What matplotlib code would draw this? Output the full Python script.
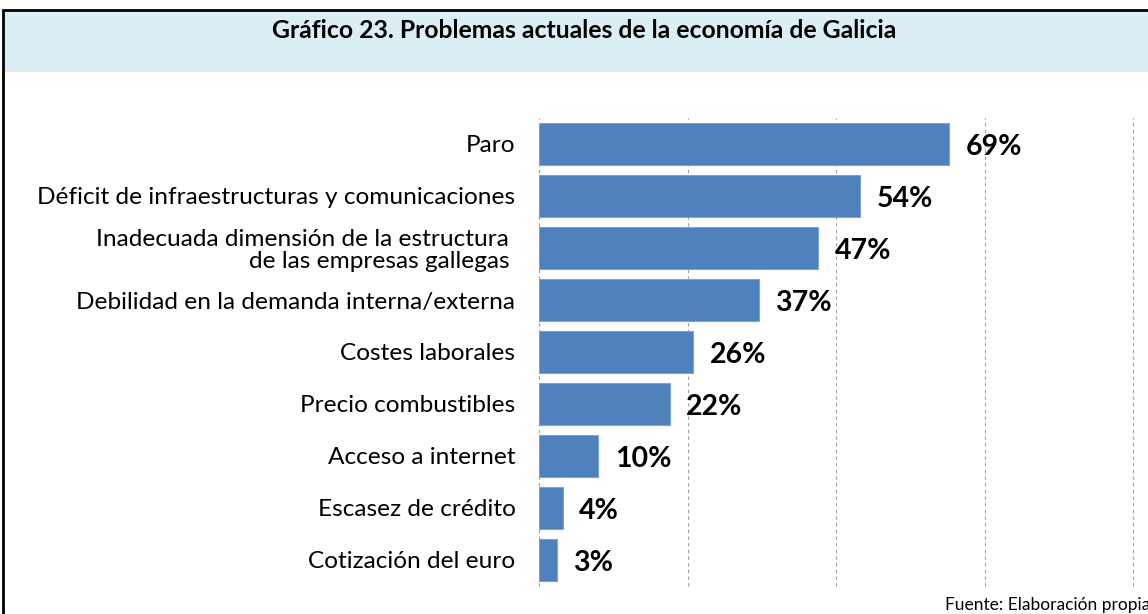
import matplotlib.pyplot as plt
from matplotlib.patches import Rectangle

categorias = ['Paro',
              'Déficit de infraestructuras y comunicaciones',
              'Inadecuada dimensión de la estructura \nde las empresas gallegas ',
              'Debilidad en la demanda interna/externa',
              'Costes laborales',
              'Precio combustibles',
              'Acceso a internet',
              'Escasez de crédito',
              'Cotización del euro']
valores = [69, 54, 47, 37, 26, 22, 10, 4, 3]
etiquetas = ['69%', '54%', '47%', '37%', '26%', '22%', '10%', '4%', '3%']

plt.rcParams['font.family'] = ['Lato', 'DejaVu Sans']

fig = plt.figure(figsize=(11.48, 6.14), dpi=100)
W, H = 1148, 614

# marco y banda del titulo
fig.patches.append(Rectangle((4/W, 1 - 72/H), 1.0, 61/H, transform=fig.transFigure,
                             fc='#DAEEF3', ec='none', zorder=0))
fig.patches.append(Rectangle((3/W, -0.1), 1.2, 1 - 10/H + 0.1, transform=fig.transFigure,
                             fc='none', ec='black', lw=2, zorder=0.5))
fig.text(584/W, 1 - 31/H, 'Gráfico 23. Problemas actuales de la economía de Galicia',
         ha='center', va='center', fontsize=17.8, fontweight='bold', color='black')

ax = fig.add_axes([539/W, 1 - 586/H, (1133 - 539)/W, (586 - 118)/H])
ax.set_zorder(2)
ax.patch.set_alpha(0)
y = list(range(len(categorias)))
ax.barh(y, valores, height=0.8, color='#4F81BD', edgecolor='#7FA3D3', lw=0.8, zorder=3)
for yi, v, t in zip(y, valores, etiquetas):
    ax.text(v + 2.8, yi + 0.05, t, va='center', ha='left', fontsize=20.5, fontweight='bold')

ax.set_xlim(0, 100)
ax.set_ylim(len(categorias) - 0.5, -0.5)
ax.set_yticks(y)
ax.set_yticklabels(categorias, fontsize=17.6, linespacing=1.05)
ax.tick_params(axis='y', length=0, pad=17)
ax.set_xticks([0, 25, 50, 75, 100])
ax.tick_params(axis='x', length=0, labelbottom=False)
ax.grid(axis='x', color='#a0a0a0', ls=(0, (3, 3)), lw=0.8)
for g in ax.get_xgridlines():
    g.set_clip_on(False)
for s in ax.spines.values():
    s.set_visible(False)

fig.text(1150/W, 1 - 605/H, 'Fuente: Elaboración propia', ha='right', va='center', fontsize=12.5)

fig.savefig('out.png', dpi=100)
